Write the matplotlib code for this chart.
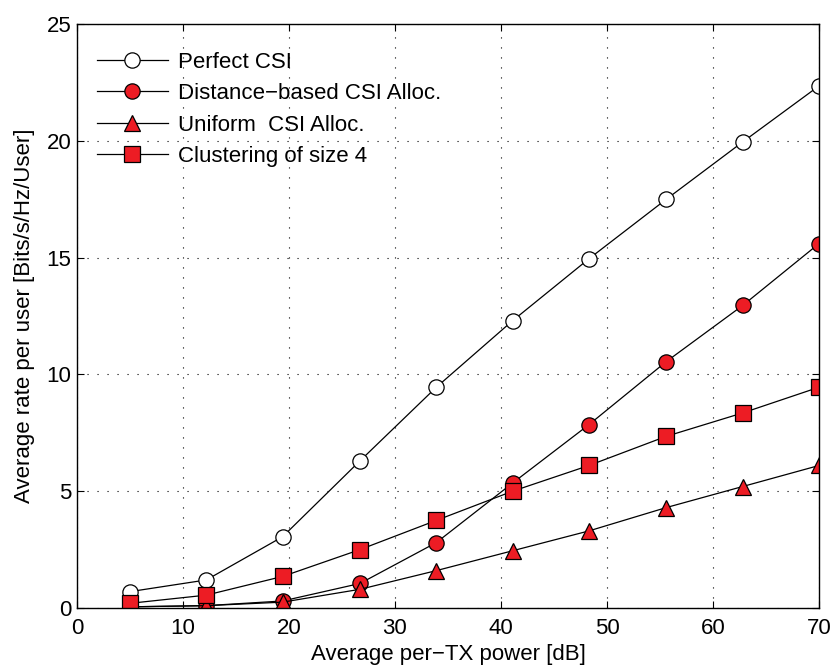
import matplotlib

matplotlib.use("Agg")

import matplotlib.pyplot as plt  # isort: skip

plt.rcParams["font.family"] = ["Liberation Sans", "DejaVu Sans"]

power_db = [5, 12.2, 19.4, 26.7, 33.9, 41.1, 48.3, 55.6, 62.8, 70]
perfect_csi = [0.7, 1.2, 3.05, 6.3, 9.45, 12.3, 14.95, 17.5, 19.95, 22.35]
distance_alloc = [0.05, 0.1, 0.3, 1.05, 2.8, 5.35, 7.85, 10.55, 12.95, 15.6]
uniform_alloc = [0.05, 0.1, 0.25, 0.8, 1.6, 2.45, 3.3, 4.3, 5.2, 6.1]
clustering_4 = [0.2, 0.55, 1.35, 2.5, 3.75, 5.0, 6.1, 7.35, 8.35, 9.45]

RED = "#ed1c24"
FS = 16

fig = plt.figure(figsize=(8.34, 6.69), dpi=100)
ax = fig.add_axes([0.0923, 0.0912, 0.8897, 0.8729])

common = dict(color="black", linewidth=0.9, markersize=11, markeredgecolor="black",
              markeredgewidth=0.9)
ax.plot(power_db, perfect_csi, marker="o", markerfacecolor="white",
        label="Perfect CSI", **common)
ax.plot(power_db, distance_alloc, marker="o", markerfacecolor=RED,
        label="Distance\u2212based CSI Alloc.", **common)
ax.plot(power_db, uniform_alloc, marker="^", markerfacecolor=RED,
        label="Uniform  CSI Alloc.", **common)
ax.plot(power_db, clustering_4, marker="s", markerfacecolor=RED,
        label="Clustering of size 4", **common)

ax.set_xlim(0, 70)
ax.set_ylim(0, 25)
ax.set_xticks(range(0, 71, 10))
ax.set_yticks(range(0, 26, 5))
ax.tick_params(direction="in", labelsize=FS, length=5, top=True, right=True)
ax.tick_params(axis="x", pad=7)
ax.tick_params(axis="y", pad=4)
ax.grid(True, linestyle=(0, (1, 8)), color="black", linewidth=0.8)
for s in ax.spines.values():
    s.set_linewidth(1.0)

ax.set_xlabel("Average per\u2212TX power [dB]", fontsize=FS, labelpad=4)
ax.set_ylabel("Average rate per user [Bits/s/Hz/User]", fontsize=FS, labelpad=8)

ax.legend(loc="upper left", frameon=False, fontsize=FS, handlelength=3.2,
          handletextpad=0.45, bbox_to_anchor=(-0.011, 1.0), labelspacing=0.47,
          borderaxespad=0.85)

fig.savefig("out.png", dpi=100)
